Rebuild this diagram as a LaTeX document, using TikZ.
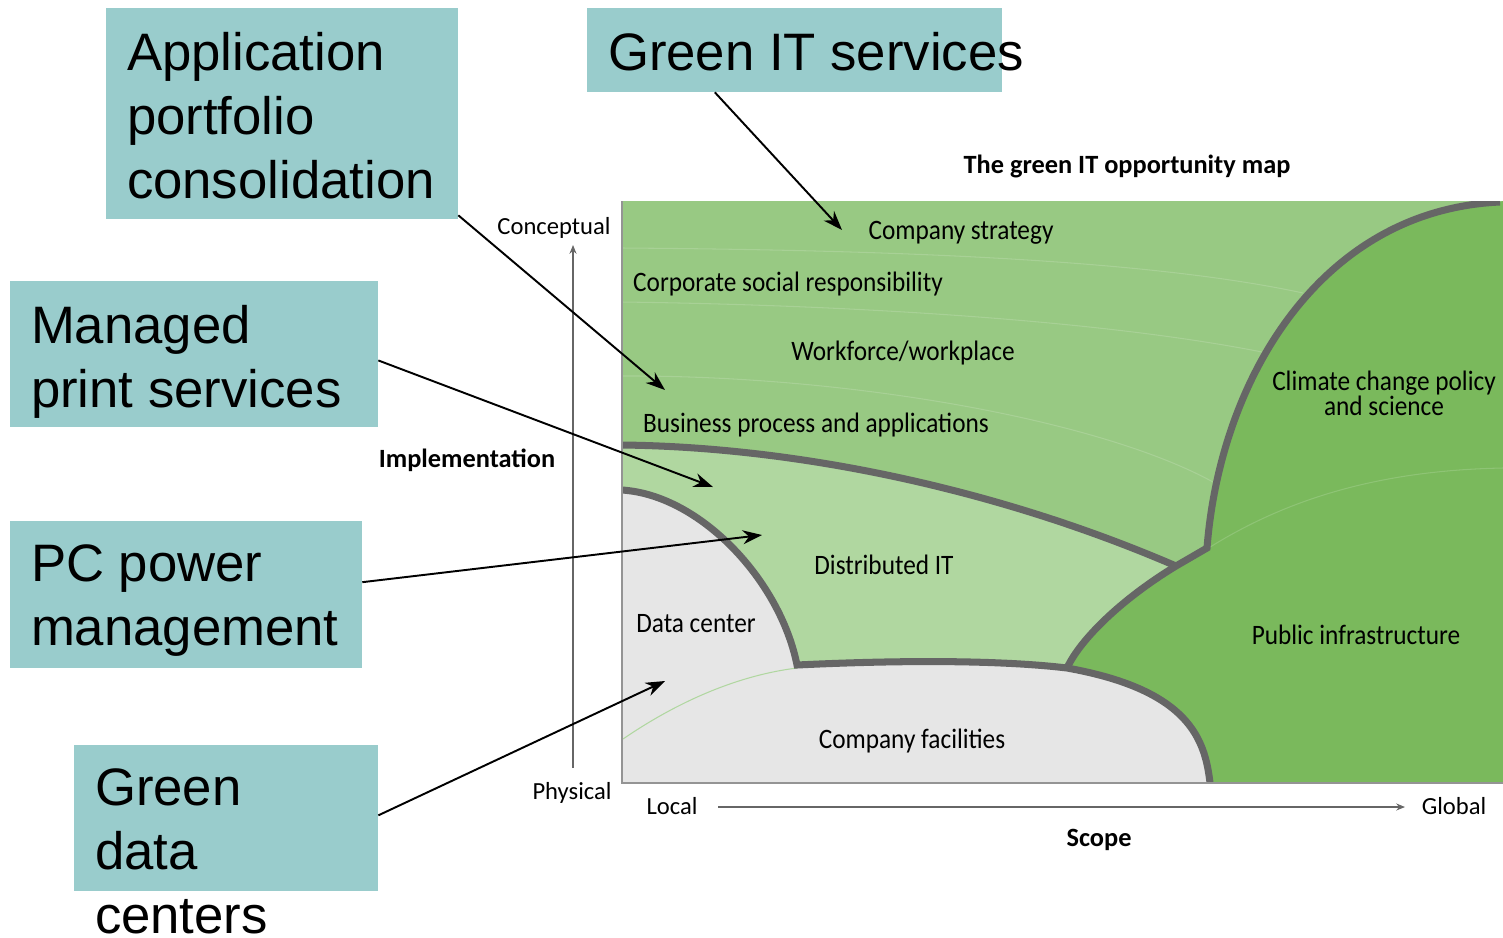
\documentclass[tikz,border=0pt]{standalone}
\usepackage{fontspec}
\setmainfont{Liberation Sans}
\newfontfamily\mapfont[FakeStretch=0.9]{Carlito}
\newfontfamily\axisfont{Carlito}
\usepackage{tikz}
\usetikzlibrary{arrows.meta,positioning}

\definecolor{boxteal}{RGB}{153,204,204}
\definecolor{midgreen}{RGB}{152,201,131}
\definecolor{darkgreen}{RGB}{122,185,92}
\definecolor{lightgreen}{RGB}{176,215,160}
\definecolor{palegray}{RGB}{230,230,230}
\definecolor{bordergray}{RGB}{102,102,102}

\tikzset{
  callout/.style={rectangle, fill=boxteal, inner sep=0pt},
  callouttext/.style={inner sep=0pt, align=left, font=\fontsize{30}{36.4}\selectfont},
  pointer/.style={-{Stealth[length=11pt,width=8pt]}, line width=1.1pt, black},
  maplabel/.style={inner sep=0pt, anchor=base, font=\mapfont\fontsize{16}{14.2}\selectfont},
  axislabel/.style={inner sep=0pt, anchor=base, font=\axisfont\fontsize{14}{17}\selectfont},
  axisbold/.style={inner sep=0pt, anchor=base, font=\axisfont\bfseries\fontsize{15}{18}\selectfont},
  axisline/.style={-{Stealth[length=5pt,width=4pt]}, line width=0.6pt, bordergray},
  border/.style={line width=4pt, bordergray},
  bandline/.style={line width=0.6pt, midgreen!85!white},
}

\begin{document}
\begin{tikzpicture}[x=0.02cm, y=-0.02cm]
  \useasboundingbox (0,0) rectangle (1503,937);

  % Map regions
  \begin{scope}
    \clip (622,201) rectangle (1503,783);
    \fill[midgreen] (622,201) rectangle (1503,783);
    \draw[bandline] (622,248) .. controls (900,250) and (1150,260) .. (1303,293);
    \draw[bandline] (622,302) .. controls (850,305) and (1100,320) .. (1262,352);
    \draw[bandline] (622,376) .. controls (850,375) and (1100,420) .. (1213,482);
    \fill[lightgreen] (622,445) .. controls (800,447) and (1000,490) .. (1176,566)
      .. controls (1120,600) and (1080,640) .. (1067,668) -- (622,668) -- cycle;
    \fill[palegray] (622,490) .. controls (700,495) and (780,580) .. (797,665)
      .. controls (900,660) and (1000,660) .. (1067,668)
      .. controls (1190,690) and (1205,740) .. (1210,783) -- (622,783) -- cycle;
    \draw[line width=0.6pt, lightgreen] (623,739) .. controls (680,700) and (740,675) .. (797,668);
    \fill[darkgreen] (1503,201) -- (1500,202) .. controls (1320,210) and (1220,380) .. (1207,548)
      -- (1176,566) .. controls (1120,600) and (1080,640) .. (1067,668)
      .. controls (1190,690) and (1205,740) .. (1210,783) -- (1503,783) -- cycle;
    \draw[line width=0.6pt, darkgreen!85!white] (1207,549) .. controls (1300,490) and (1400,470) .. (1503,468);
    % thick borders
    \draw[border] (622,445) .. controls (800,447) and (1000,490) .. (1176,566);
    \draw[border] (1500,202) .. controls (1320,210) and (1220,380) .. (1207,548)
      -- (1176,566) .. controls (1120,600) and (1080,640) .. (1067,668);
    \draw[border] (622,490) .. controls (700,495) and (780,580) .. (797,665)
      .. controls (900,660) and (1000,660) .. (1067,668)
      .. controls (1190,690) and (1205,740) .. (1210,783);
  \end{scope}
  \draw[line width=0.6pt, bordergray!70] (622,201) -- (622,783) -- (1503,783);

  % Map labels
  \node[axisbold]  (title)   at (1127,173) {The green IT opportunity map};
  \node[maplabel]  (strat)   at (961,239)  {Company strategy};
  \node[maplabel]  (csr)     at (788,291)  {Corporate social responsibility};
  \node[maplabel]  (work)    at (903,360)  {Workforce/workplace};
  \node[maplabel]  (busi)    at (816,432)  {Business process and applications};
  \node[maplabel, anchor=center, align=center] (climate) at (1384,393) {Climate change policy\\and science};
  \node[maplabel]  (distit)  at (884,574)  {Distributed IT};
  \node[maplabel]  (dc)      at (696,632)  {Data center};
  \node[maplabel]  (public)  at (1356,644) {Public infrastructure};
  \node[maplabel]  (facil)   at (912,748)  {Company facilities};

  % Axes
  \node[axislabel] (concept) at (554,234)  {Conceptual};
  \node[axislabel] (phys)    at (572,799)  {Physical};
  \node[axisbold]  (impl)    at (467,467)  {Implementation};
  \node[axislabel] (local)   at (672,814)  {Local};
  \node[axislabel] (global)  at (1454,814) {Global};
  \node[axisbold]  (scope)   at (1099,846) {Scope};
  \coordinate (ybot) at (573,768);
  \coordinate (ytop) at (573,245);
  \coordinate (xleft) at (718,807);
  \coordinate (xright) at (1405,807);
  \draw[axisline] (ybot) -- (ytop);
  \draw[axisline] (xleft) -- (xright);

  % Callout boxes
  \node[callout, minimum width=7.04cm, minimum height=4.22cm] (app)  at (282,113.5) {};
  \node[callout, minimum width=8.3cm,  minimum height=1.68cm] (gits) at (794.5,50)  {};
  \node[callout, minimum width=7.36cm, minimum height=2.92cm] (mps)  at (194,354)   {};
  \node[callout, minimum width=7.04cm, minimum height=2.94cm] (pcpm) at (186,594.5) {};
  \node[callout, minimum width=6.08cm, minimum height=2.92cm] (gdc)  at (226,818)   {};

  \node[callouttext, below right=0.48cm and 0.42cm of app.north west]  {Application\\portfolio\\consolidation};
  \node[callouttext, below right=0.48cm and 0.42cm of gits.north west] {Green IT services};
  \node[callouttext, below right=0.48cm and 0.42cm of mps.north west]  {Managed\\print services};
  \node[callouttext, below right=0.48cm and 0.42cm of pcpm.north west] {PC power\\management};
  \node[callouttext, below right=0.48cm and 0.42cm of gdc.north west]  {Green\\data\\centers};

  % Connect the callouts
  \coordinate (tstrat) at (842,230);
  \coordinate (tbusi)  at (665,390);
  \coordinate (tdist)  at (713,487);
  \coordinate (tpc)    at (762,535);
  \coordinate (tdc)    at (665,681);
  \draw[pointer] (gits.208) -- (tstrat);
  \draw[pointer] (app.330)  -- (tbusi);
  \draw[pointer] (mps.358)  -- (tdist);
  \draw[pointer] (pcpm.4)   -- (tpc);
  \draw[pointer] (gdc.1)    -- (tdc);

\end{tikzpicture}
\end{document}
